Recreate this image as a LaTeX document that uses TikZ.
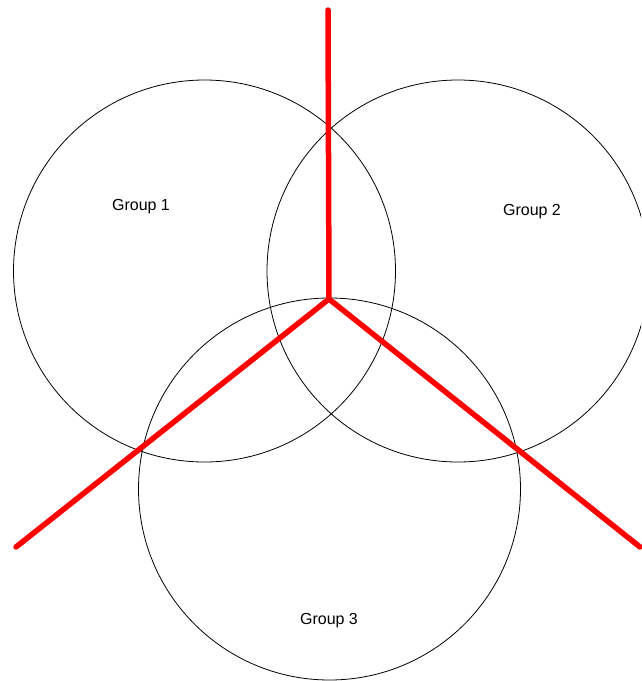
\documentclass[tikz,border=0pt]{standalone}
\usepackage{fontspec}
\setmainfont{Liberation Sans}
\begin{document}
\begin{tikzpicture}[x=1pt,y=-1pt,
  setcircle/.style={draw=black,line width=0.8pt,circle,minimum size=382pt,inner sep=0pt},
  lbl/.style={font=\fontsize{16}{19}\selectfont,inner sep=0pt},
  redline/.style={draw=red,line width=5.5pt,line cap=round,line join=round}]
\useasboundingbox (0,0) rectangle (641,681);
\begin{scope}
\clip (0,0) rectangle (641,681);
\node[setcircle] (c1) at (204.5,271) {};
\node[setcircle] (c2) at (458,271) {};
\node[setcircle] (c3) at (329.5,489) {};
\end{scope}
\node[lbl] (g1) at (141,206.5) {Group 1};
\node[lbl] (g2) at (532,211.5) {Group 2};
\node[lbl] (g3) at (329,620.5) {Group 3};
\coordinate (m) at (329,299);
\coordinate (t) at (328,10);
\coordinate (l) at (16,547);
\coordinate (r) at (640,547);
\draw[redline] (t) -- (m);
\draw[redline] (l) -- (m) -- (r);
\end{tikzpicture}
\end{document}
